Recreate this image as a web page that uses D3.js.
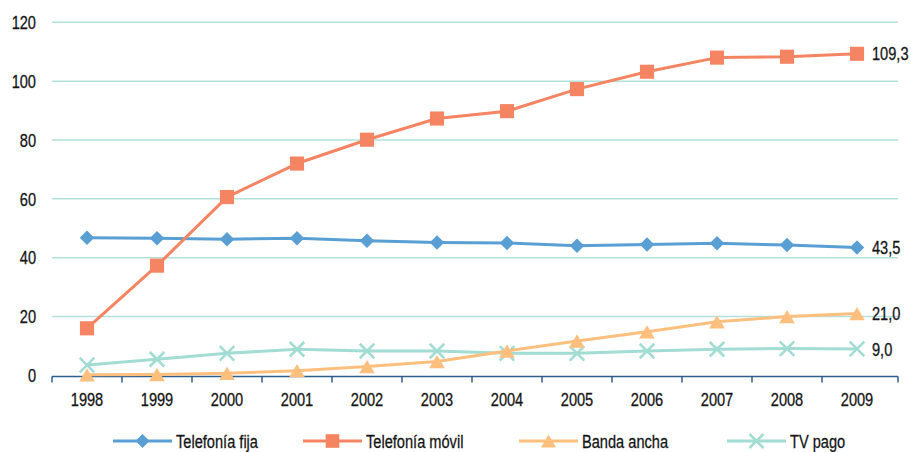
<!DOCTYPE html>
<html>
<head>
<meta charset="utf-8">
<script src="https://cdn.jsdelivr.net/npm/d3@7"></script>
<style>
  html, body { margin: 0; padding: 0; background: #fff; }
  svg { display: block; }
  text { font-family: "Liberation Sans", "Arimo", "DejaVu Sans", sans-serif; fill: #151515; stroke: #151515; stroke-width: 0.3px; }
</style>
</head>
<body>
<svg id="chart" width="911" height="452"></svg>
<script>
const years = ["1998","1999","2000","2001","2002","2003","2004","2005","2006","2007","2008","2009"];
const telefoniaFija  = [46.8, 46.6, 46.3, 46.6, 45.8, 45.2, 45.0, 44.1, 44.5, 44.9, 44.3, 43.5];
const telefoniaMovil = [16.0, 37.3, 60.6, 72.0, 80.1, 87.3, 89.8, 97.3, 103.2, 108.0, 108.3, 109.3];
const bandaAncha     = [0.2, 0.3, 0.7, 1.6, 3.0, 4.7, 8.3, 11.7, 14.8, 18.2, 20.0, 21.0];
const tvPago         = [3.5, 5.5, 7.5, 8.9, 8.3, 8.3, 7.5, 7.5, 8.3, 8.9, 9.1, 9.0];
const yTicks = [0, 20, 40, 60, 80, 100, 120];
const seriesNames = ["Telefonía fija", "Telefonía móvil", "Banda ancha", "TV pago"];
const endLabels = ["43,5", "109,3", "21,0", "9,0"];

const series = [
  { name: seriesNames[0], values: telefoniaFija,  color: "#5a9fd4", marker: "diamond", label: endLabels[0] },
  { name: seriesNames[1], values: telefoniaMovil, color: "#f58462", marker: "square",  label: endLabels[1] },
  { name: seriesNames[3], values: tvPago,         color: "#a2dcd3", marker: "x",       label: endLabels[3] },
  { name: seriesNames[2], values: bandaAncha,     color: "#fdbf7e", marker: "triangle",label: endLabels[2] }
];
const legendOrder = [series[0], series[1], series[3], series[2]];

const svg = d3.select("#chart");
const plotLeft = 52, plotRight = 892, axisEnd = 898, plotTop = 22.3, plotBottom = 375.4;
const SX = 0.79; // horizontal condensing of text

const x = d3.scaleBand().domain(years).range([plotLeft, plotRight]);
const y = d3.scaleLinear().domain([0, 120]).range([plotBottom, plotTop]);

function cText(g, tx, ty, str, anchor, dy) {
  return g.append("text")
    .attr("transform", `translate(${tx},${ty}) scale(${SX},1)`)
    .attr("text-anchor", anchor || "start")
    .attr("dy", dy || 0)
    .attr("font-size", 18.5)
    .text(str);
}

// gridlines
svg.append("g").selectAll("line").data(yTicks.filter(d => d > 0)).join("line")
  .attr("x1", plotLeft).attr("x2", axisEnd)
  .attr("y1", d => y(d)).attr("y2", d => y(d))
  .attr("stroke", "#b3e0da").attr("stroke-width", 1.5);

// y labels
const yl = svg.append("g");
yTicks.forEach(d => cText(yl, 36, y(d), d, "end", "0.36em"));

// x axis
const xa = svg.append("g");
xa.append("line").attr("x1", plotLeft).attr("x2", axisEnd).attr("y1", plotBottom + 1).attr("y2", plotBottom + 1)
  .attr("stroke", "#2f5d8c").attr("stroke-width", 1.5);
const tickPos = years.map(d => x(d)).concat([axisEnd]);
xa.selectAll("line.t").data(tickPos).join("line").attr("class", "t")
  .attr("x1", d => d).attr("x2", d => d).attr("y1", plotBottom + 1).attr("y2", plotBottom + 7)
  .attr("stroke", "#2f5d8c").attr("stroke-width", 1.5);
years.forEach(d => cText(xa, x(d) + x.bandwidth() / 2, 406, d, "middle"));

function drawMarker(g, type, color, cx, cy, s) {
  if (type === "diamond") {
    g.append("path").attr("d", d3.symbol(d3.symbolSquare, s * s * 0.5)())
      .attr("transform", `translate(${cx},${cy}) rotate(45)`).attr("fill", color);
  } else if (type === "square") {
    g.append("path").attr("d", d3.symbol(d3.symbolSquare, s * s * 0.95)())
      .attr("transform", `translate(${cx},${cy})`).attr("fill", color);
  } else if (type === "triangle") {
    const w = s * 1.08, h = s * 0.92;
    g.append("path").attr("d", `M${cx},${cy - h / 2}L${cx + w / 2},${cy + h / 2}L${cx - w / 2},${cy + h / 2}Z`)
      .attr("fill", color);
  } else if (type === "x") {
    const r = s / 2;
    g.append("path").attr("d", `M${cx - r},${cy - r}L${cx + r},${cy + r}M${cx - r},${cy + r}L${cx + r},${cy - r}`)
      .attr("stroke", color).attr("stroke-width", 2.6).attr("fill", "none");
  }
}

const line = d3.line().x((d, i) => x(years[i]) + x.bandwidth() / 2).y(d => y(d));

series.forEach(s => {
  const g = svg.append("g");
  g.append("path").attr("d", line(s.values)).attr("fill", "none")
    .attr("stroke", s.color).attr("stroke-width", 3).attr("stroke-linejoin", "round");
  s.values.forEach((v, i) => drawMarker(g, s.marker, s.color, x(years[i]) + x.bandwidth() / 2, y(v), 14.5));
  const last = s.values.length - 1;
  cText(g, x(years[last]) + x.bandwidth() / 2 + 15, y(s.values[last]), s.label, "start", "0.36em");
});

// legend
const legendX = [113, 303, 519, 727];
const ly = 441;
legendOrder.forEach((s, i) => {
  const g = svg.append("g");
  const x0 = legendX[i];
  g.append("line").attr("x1", x0).attr("x2", x0 + 59).attr("y1", ly).attr("y2", ly)
    .attr("stroke", s.color).attr("stroke-width", 3);
  drawMarker(g, s.marker, s.color, x0 + 29.5, ly, 14);
  cText(g, x0 + 63, ly, s.name, "start", "0.36em");
});
</script>
</body>
</html>
